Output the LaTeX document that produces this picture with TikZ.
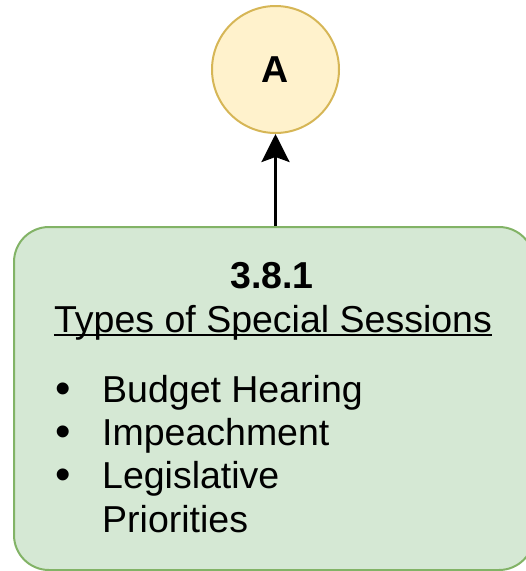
\documentclass[tikz,border=0pt]{standalone}
\usepackage{fontspec}
\setmainfont{Liberation Sans}
\usetikzlibrary{arrows.meta}
\definecolor{noteFill}{HTML}{D5E8D4}
\definecolor{noteLine}{HTML}{82B366}
\definecolor{termFill}{HTML}{FFF2CC}
\definecolor{termLine}{HTML}{D6B656}
\begin{document}
\begin{tikzpicture}[x=1pt,y=-1pt,
  bigtext/.style={font=\fontsize{37.5}{45}\selectfont, inner sep=0pt, text=black},
  connector/.style={line width=3pt, -{Stealth[length=28pt,width=28pt,inset=5pt]}}]
\useasboundingbox (0,0) rectangle (526,571);
\clip (0,0) rectangle (526,571);

% section card
\node[draw=noteLine, fill=noteFill, line width=2pt, rounded corners=35pt,
      minimum width=520pt, minimum height=343pt, inner sep=0pt,
      anchor=north west] (card) at (13,226) {};

% off-page connector circle
\node[circle, draw=termLine, fill=termFill, line width=2pt,
      minimum size=127pt, inner sep=0pt, font=\fontsize{37.5}{45}\selectfont\bfseries]
      (conn) at (275.5,69.5) {A};

\coordinate (cardTop) at (275.5,226);
\draw[connector] (cardTop) -- (conn.south);

% heading
\node[bigtext, anchor=base, font=\fontsize{37.5}{45}\selectfont\bfseries] (num) at (272,288) {3.8.1};
\node[bigtext, anchor=base] (title) at (273,332) {Types of Special Sessions};
\draw[line width=2pt] ([yshift=-3pt]title.base west) -- ([yshift=-3pt]title.base east);

% bullet list
\foreach \y/\txt/\nm in {402/Budget Hearing/b1, 445/Impeachment/b2, 488/Legislative/b3} {
  \node[bigtext, anchor=base, font=\fontsize{44}{45}\selectfont] (dot\nm) at (63,\y+1) {•};
  \node[bigtext, anchor=base west] (\nm) at (102,\y) {\txt};
}
\node[bigtext, anchor=base west] (b4) at (102,532) {Priorities};
\end{tikzpicture}
\end{document}
